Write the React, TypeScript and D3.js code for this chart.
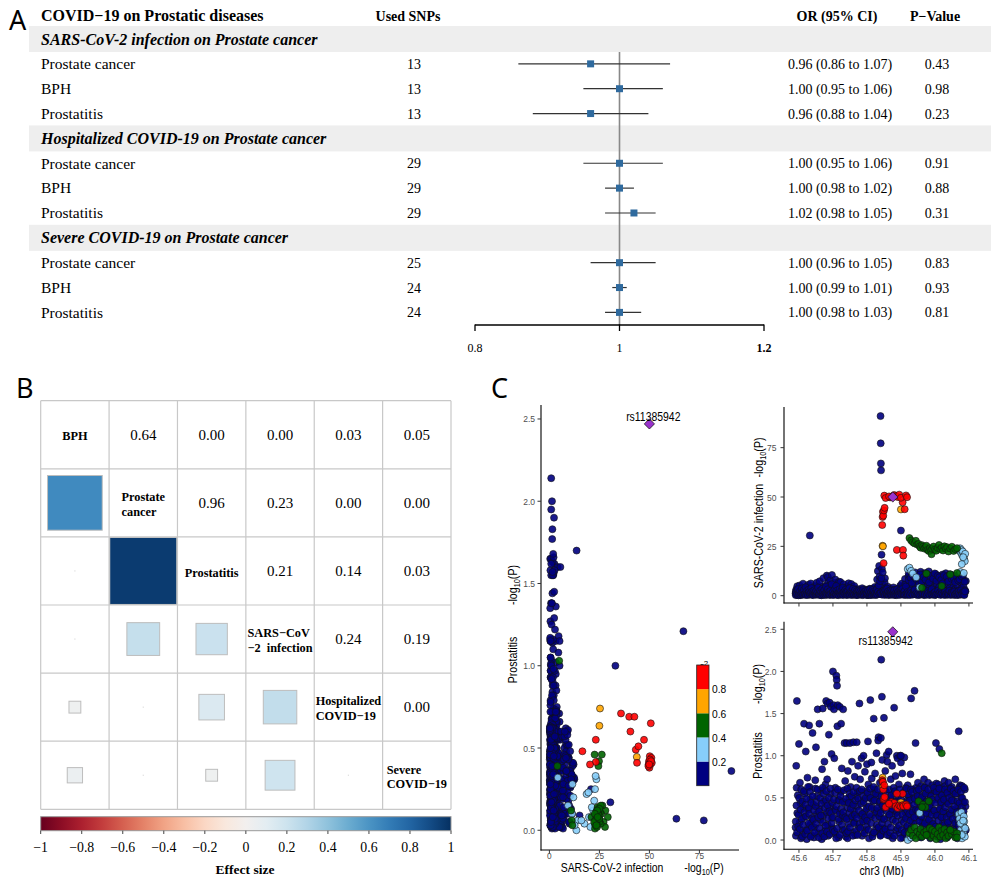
import React, { useMemo } from 'react';
import * as d3 from 'd3';

// ---------------- Panel A data ----------------
const forestHeader = 'COVID−19 on Prostatic diseases';
const forestGroups = [
  'SARS-CoV-2 infection on Prostate cancer',
  'Hospitalized COVID-19 on Prostate cancer',
  'Severe COVID-19 on Prostate cancer',
];
const forestOutcomes = ['Prostate cancer', 'BPH', 'Prostatitis'];
const usedSnps = [13, 13, 13, 29, 29, 29, 25, 24, 24];
const orValues = [0.96, 1.0, 0.96, 1.0, 1.0, 1.02, 1.0, 1.0, 1.0];
const ciLow = [0.86, 0.95, 0.88, 0.95, 0.98, 0.98, 0.96, 0.99, 0.98];
const ciHigh = [1.07, 1.06, 1.04, 1.06, 1.02, 1.05, 1.05, 1.01, 1.03];
const pValues = ['0.43', '0.98', '0.23', '0.91', '0.88', '0.31', '0.83', '0.93', '0.81'];
const forestTicks = [0.8, 1, 1.2];

// ---------------- Panel B data ----------------
const corrLabelLines = [
  ['BPH'],
  ['Prostate', 'cancer'],
  ['Prostatitis'],
  ['SARS−CoV', '−2  infection'],
  ['Hospitalized', 'COVID−19'],
  ['Severe', 'COVID−19'],
];
// [row, col, effect] upper triangle
const corrUpper: [number, number, number][] = [
  [0, 1, 0.64], [0, 2, 0.0], [0, 3, 0.0], [0, 4, 0.03], [0, 5, 0.05],
  [1, 2, 0.96], [1, 3, 0.23], [1, 4, 0.0], [1, 5, 0.0],
  [2, 3, 0.21], [2, 4, 0.14], [2, 5, 0.03],
  [3, 4, 0.24], [3, 5, 0.19],
  [4, 5, 0.0],
];
const effectTicks = [-1, -0.8, -0.6, -0.4, -0.2, 0, 0.2, 0.4, 0.6, 0.8, 1];

// ---------------- Panel C data: [pos Mb, SARS -log10P, Prostatitis -log10P] ----------------
const navySnps: number[][] = [
  [45.590,1.2,0.15],[45.592,3.1,0.88],[45.594,0.4,1.65],[45.591,2.2,0.05],[45.595,4.8,0.32],[45.593,0.9,0.62],
  [45.600,1.5,1.14],[45.602,5.2,0.21],[45.604,0.3,0.44],[45.606,2.7,0.02],[45.603,1.1,0.68],
  [45.632,30.5,0.17],[45.612,6.1,0.38],[45.615,0.8,1.38],[45.611,2.4,0.09],[45.617,3.6,0.55],[45.614,1.9,0.27],
  [45.620,0.6,1.05],[45.622,4.4,0.12],[45.625,2.1,0.74],[45.628,5.6,0.36],[45.623,1.3,0.01],
  [45.630,3.2,1.36],[45.633,0.7,0.48],[45.635,6.2,0.2],[45.637,2.9,0.06],[45.631,1.6,0.63],
  [45.640,0.5,1.27],[45.642,3.8,0.42],[45.645,1.7,0.15],[45.648,4.9,0.71],[45.644,2.3,0.03],
  [45.650,1.9,1.1],[45.652,6.5,0.31],[45.655,0.9,1.55],[45.657,3.3,0.08],[45.653,2.6,0.52],
  [45.660,1.2,1.38],[45.663,4.6,0.24],[45.665,0.4,0.59],[45.667,2.8,0.01],[45.661,7.3,0.37],[45.668,1.5,0.84],
  [45.670,2.1,1.56],[45.672,8.9,0.29],[45.675,0.6,0.93],[45.677,3.9,0.11],[45.673,1.4,0.46],[45.678,5.1,0.66],
  [45.680,0.8,1.65],[45.682,10.2,0.33],[45.684,2.5,1.62],[45.686,6.4,0.05],[45.688,1.1,1.25],[45.683,3.7,0.72],[45.685,9.5,0.18],
  [45.690,1.6,1.63],[45.692,7.8,0.4],[45.694,0.5,1.58],[45.696,3.2,1.02],[45.698,2.2,0.14],[45.693,5.4,0.55],[45.697,10.5,0.26],
  [45.700,1.3,2.0],[45.702,4.1,1.6],[45.704,0.7,0.97],[45.706,6.6,0.36],[45.708,2.9,0.07],[45.703,1.9,1.55],[45.707,8.2,0.62],
  [45.710,0.9,1.95],[45.711,2.3,1.9],[45.712,1.5,1.83],[45.714,5.5,1.6],[45.716,3.4,0.48],[45.718,7.1,0.22],[45.713,0.4,1.35],[45.717,1.8,0.03],
  [45.720,2.6,1.58],[45.722,6.9,0.31],[45.724,1.2,1.38],[45.726,3.5,0.85],[45.728,0.6,0.12],[45.723,4.2,0.57],
  [45.730,1.7,1.55],[45.732,5.8,0.26],[45.734,0.8,1.15],[45.736,2.4,0.7],[45.738,3.9,0.04],[45.733,1.1,0.45],
  [45.740,0.5,1.15],[45.742,4.7,0.38],[45.744,2.2,0.82],[45.746,6.3,0.19],[45.748,1.3,0.51],[45.743,0.9,0.02],
  [45.750,3.1,1.15],[45.752,1.4,0.63],[45.754,5.9,0.27],[45.756,0.7,0.93],[45.758,2.6,0.09],[45.753,4.1,0.44],
  [45.760,1.8,1.16],[45.762,0.6,0.34],[45.764,3.7,0.75],[45.766,2.1,0.06],[45.768,1.2,0.52],[45.763,4.9,0.21],
  [45.770,0.4,1.16],[45.772,2.8,0.4],[45.774,1.6,0.88],[45.776,3.3,0.15],[45.778,0.9,1.62],[45.773,2.0,0.57],
  [45.780,1.3,0.72],[45.782,2.5,0.29],[45.784,0.6,0.97],[45.786,3.8,0.05],[45.788,1.9,0.47],
  [45.790,0.8,1.0],[45.792,2.2,0.33],[45.794,1.5,0.81],[45.796,3.1,0.12],[45.798,0.5,0.58],[45.793,2.7,0.24],
  [45.800,1.7,0.9],[45.802,0.9,0.39],[45.804,2.9,0.66],[45.806,1.2,0.02],[45.808,3.5,0.5],[45.803,0.4,1.17],
  [45.810,2.1,1.66],[45.812,0.7,0.28],[45.814,3.4,0.73],[45.816,1.4,0.07],[45.818,2.6,0.55],[45.813,1.0,0.92],
  [45.820,1.5,1.44],[45.822,3.7,0.36],[45.824,0.6,0.79],[45.826,2.3,0.13],[45.828,1.1,1.03],[45.823,4.4,0.6],
  [45.830,8.2,0.52],[45.832,12.5,0.31],[45.834,2.8,1.22],[45.836,15.1,0.09],[45.838,1.5,0.68],[45.833,4.6,1.18],[45.837,9.7,0.44],
  [45.840,91.0,0.36],[45.8405,77.2,0.06],[45.841,67.0,1.21],[45.8415,63.5,0.07],[45.842,0.9,2.14],[45.843,20.8,0.25],[45.844,13.6,1.7],[45.845,3.2,0.95],[45.846,1.1,0.14],[45.847,5.5,0.57],
  [45.850,2.4,1.45],[45.852,6.8,0.38],[45.854,1.3,0.82],[45.856,3.9,0.1],[45.858,0.7,1.01],[45.853,8.8,0.6],
  [45.860,1.8,0.93],[45.862,4.5,0.27],[45.864,0.6,1.05],[45.866,2.9,0.05],[45.868,1.2,0.48],
  [45.870,3.3,0.72],[45.872,0.8,0.34],[45.874,2.1,0.88],[45.876,1.4,0.02],[45.878,4.2,0.55],
  [45.880,1.6,1.57],[45.882,3.0,0.31],[45.884,0.5,0.76],[45.886,2.5,0.11],[45.888,1.0,1.0],
  [45.890,2.7,0.97],[45.892,0.9,0.4],[45.894,3.8,0.66],[45.896,1.5,0.08],[45.898,5.1,1.0],
  [45.900,1.1,0.92],[45.902,4.3,0.24],[45.904,2.2,0.79],[45.906,0.7,0.03],[45.908,3.4,0.57],[45.903,6.2,0.42],
  [45.910,2.0,0.98],[45.912,8.5,0.33],[45.914,0.8,0.62],[45.916,3.7,0.15],[45.918,1.5,0.47],[45.913,5.6,0.06],
  [45.920,3.1,0.65],[45.922,9.8,0.28],[45.924,1.3,0.52],[45.926,6.4,0.02],[45.928,0.6,0.78],[45.923,11.2,0.41],
  [45.930,1.9,1.68],[45.932,10.6,0.37],[45.934,4.2,0.6],[45.936,0.9,0.13],[45.938,7.5,0.5],[45.933,2.6,0.22],
  [45.940,1.4,1.77],[45.942,11.8,0.3],[45.944,3.3,0.62],[45.946,0.7,0.08],[45.948,8.9,0.45],[45.943,5.1,1.15],
  [45.950,2.5,0.68],[45.952,9.2,0.27],[45.954,0.8,0.55],[45.956,5.7,0.04],[45.958,12.1,0.4],[45.953,1.6,0.16],
  [45.960,3.6,0.64],[45.962,10.9,0.34],[45.964,1.2,0.5],[45.966,7.3,0.1],[45.968,0.5,0.72],[45.963,4.8,0.2],
  [45.970,1.8,0.63],[45.972,11.5,0.39],[45.974,4.4,0.58],[45.976,0.9,0.06],[45.978,8.1,0.46],[45.973,2.9,0.25],
  [45.980,2.3,0.68],[45.982,12.3,0.32],[45.984,0.6,0.54],[45.986,6.0,0.02],[45.988,9.6,0.44],[45.983,3.8,0.18],
  [45.900,33.0,1.0],[45.992,1.5,0.65],[45.994,10.4,0.36],[45.996,4.0,0.57],[45.998,0.8,0.12],[45.993,7.7,0.23],
  [46.000,2.8,0.58],[46.002,11.0,0.3],[46.004,1.1,0.67],[46.006,5.5,0.05],[46.008,8.4,0.48],[46.003,0.6,1.15],
  [46.010,3.4,0.66],[46.012,9.9,0.35],[46.014,1.3,0.55],[46.016,6.8,0.01],[46.018,0.7,0.42],[46.013,4.5,1.08],
  [46.020,2.0,0.62],[46.022,10.7,0.27],[46.024,0.9,0.5],[46.026,7.2,0.08],[46.028,3.6,0.7],[46.023,1.4,0.2],
  [46.030,1.6,0.64],[46.032,11.4,0.33],[46.034,4.9,0.56],[46.036,0.6,0.03],[46.038,8.7,0.45],[46.033,2.4,0.16],
  [46.040,2.9,0.68],[46.042,9.5,0.3],[46.044,1.2,0.6],[46.046,6.1,0.1],[46.048,0.8,0.52],[46.043,3.9,0.22],
  [46.050,1.9,0.63],[46.052,10.3,0.36],[46.054,4.1,0.47],[46.056,0.7,0.06],[46.058,7.6,0.58],[46.053,2.6,0.14],
  [46.060,3.2,0.72],[46.062,8.8,0.28],[46.064,1.0,0.55],[46.066,5.3,0.02],[46.068,0.5,0.41],[46.063,2.1,0.2],
  [46.070,2.4,1.29],[46.072,11.1,0.34],[46.074,0.8,0.65],[46.076,6.7,0.07],[46.078,3.7,0.5],[46.073,1.5,0.63],
  [46.080,1.7,0.64],[46.082,9.0,0.3],[46.084,4.6,0.45],[46.086,0.6,0.09],[46.088,2.9,0.6],[46.083,1.2,0.19],
  [46.090,2.2,0.4],[46.091,7.4,0.12],
];
const navyDenseSnps: number[][] = [
  [45.5905,0.3,0.22],[45.5925,1.8,0.41],[45.5945,0.7,0.09],[45.5965,2.6,0.53],[45.5985,0.2,0.3],[45.5975,3.4,0.16],
  [45.6005,0.9,0.5],[45.6025,2.1,0.13],[45.6045,0.4,0.36],[45.6065,1.3,0.6],[45.6085,3.7,0.25],[45.6095,0.6,0.04],
  [45.6105,1.6,0.46],[45.6125,0.5,0.18],[45.6145,2.9,0.58],[45.6165,0.8,0.33],[45.6185,1.1,0.07],[45.6195,4.3,0.42],
  [45.6205,0.4,0.28],[45.6225,2.4,0.49],[45.6245,1.0,0.11],[45.6265,0.3,0.63],[45.6285,3.1,0.2],[45.6295,1.5,0.38],
  [45.6305,2.0,0.31],[45.6325,0.6,0.57],[45.6345,1.4,0.04],[45.6365,3.9,0.44],[45.6385,0.5,0.15],[45.6395,2.2,0.26],
  [45.6405,1.1,0.52],[45.6425,0.3,0.24],[45.6445,2.7,0.35],[45.6465,0.9,0.09],[45.6485,1.8,0.61],[45.6495,0.5,0.4],
  [45.6505,2.3,0.19],[45.6525,0.7,0.45],[45.6545,1.5,0.6],[45.6565,4.1,0.27],[45.6585,0.4,0.03],[45.6595,1.2,0.34],
  [45.6605,0.8,0.14],[45.6625,2.6,0.5],[45.6645,1.3,0.29],[45.6665,0.2,0.43],[45.6685,3.5,0.08],[45.6695,0.9,0.62],
  [45.6705,1.7,0.21],[45.6725,0.5,0.55],[45.6745,2.8,0.04],[45.6765,1.0,0.38],[45.6785,0.3,0.17],[45.6795,4.6,0.47],
  [45.6805,1.4,0.58],[45.6825,0.6,0.1],[45.6845,3.2,0.41],[45.6865,0.9,0.26],[45.6885,2.0,0.5],[45.6895,0.4,0.34],
  [45.6905,0.7,0.07],[45.6925,2.5,0.61],[45.6945,1.1,0.32],[45.6965,5.8,0.2],[45.6985,0.5,0.44],[45.6995,1.6,0.12],
  [45.7005,2.2,0.27],[45.7025,0.4,0.48],[45.7045,1.3,0.1],[45.7065,3.6,0.56],[45.7085,0.8,0.35],[45.7095,4.9,0.02],
  [45.7105,0.6,0.4],[45.7125,2.7,0.14],[45.7145,1.2,0.6],[45.7165,0.3,0.25],[45.7185,1.9,0.47],[45.7195,3.3,0.31],
  [45.7205,1.0,0.06],[45.7225,0.5,0.52],[45.7245,2.3,0.37],[45.7265,0.8,0.18],[45.7285,4.0,0.45],[45.7295,1.5,0.29],
  [45.7305,0.3,0.33],[45.7325,1.8,0.59],[45.7345,0.9,0.12],[45.7365,3.0,0.27],[45.7385,0.6,0.49],[45.7395,2.1,0.08],
  [45.7405,1.4,0.25],[45.7425,0.4,0.61],[45.7445,2.5,0.1],[45.7465,0.7,0.44],[45.7485,3.8,0.32],[45.7495,1.1,0.55],
  [45.7505,0.5,0.15],[45.7525,2.0,0.37],[45.7545,1.2,0.52],[45.7565,0.3,0.28],[45.7585,3.4,0.05],[45.7595,0.8,0.42],
  [45.7605,1.6,0.57],[45.7625,0.6,0.2],[45.7645,2.8,0.3],[45.7665,1.0,0.47],[45.7685,0.4,0.11],[45.7695,2.2,0.62],
  [45.7705,0.9,0.26],[45.7725,1.7,0.06],[45.7745,0.4,0.49],[45.7765,2.6,0.35],[45.7785,1.2,0.19],[45.7795,0.6,0.58],
  [45.7805,2.1,0.14],[45.7825,0.7,0.43],[45.7845,1.5,0.6],[45.7865,0.3,0.31],[45.7885,3.0,0.22],[45.7895,1.0,0.52],
  [45.7905,0.5,0.45],[45.7925,1.9,0.08],[45.7945,0.8,0.27],[45.7965,2.4,0.5],[45.7985,1.3,0.37],[45.7995,0.4,0.16],
  [45.8005,1.1,0.23],[45.8025,2.6,0.56],[45.8045,0.6,0.12],[45.8065,1.8,0.4],[45.8085,0.3,0.3],[45.8095,3.3,0.61],
  [45.8105,0.7,0.5],[45.8125,1.6,0.2],[45.8145,0.4,0.38],[45.8165,2.9,0.04],[45.8185,1.0,0.46],[45.8195,0.5,0.63],
  [45.8205,2.2,0.09],[45.8225,0.8,0.47],[45.8245,1.4,0.26],[45.8265,0.3,0.55],[45.8285,3.1,0.33],[45.8295,1.1,0.18],
  [45.8305,0.6,0.38],[45.8325,2.0,0.6],[45.8345,5.2,0.15],[45.8365,0.9,0.28],[45.8385,7.4,0.46],[45.8395,1.5,0.05],
  [45.8405,1.2,0.32],[45.8425,8.9,0.52],[45.8445,0.5,0.2],[45.8465,11.8,0.41],[45.8485,2.4,0.11],[45.8495,0.8,0.6],
  [45.8505,1.7,0.25],[45.8525,0.4,0.48],[45.8545,2.9,0.13],[45.8565,1.0,0.57],[45.8585,0.6,0.34],[45.8595,3.6,0.06],
  [45.8605,0.9,0.43],[45.8625,2.2,0.19],[45.8645,0.3,0.6],[45.8665,1.6,0.3],[45.8685,0.7,0.09],[45.8695,2.7,0.5],
  [45.8705,1.3,0.15],[45.8725,0.5,0.53],[45.8745,2.5,0.37],[45.8765,0.8,0.24],[45.8785,1.9,0.62],[45.8795,0.4,0.45],
  [45.8805,2.8,0.05],[45.8825,0.6,0.58],[45.8845,1.4,0.22],[45.8865,0.3,0.46],[45.8885,3.2,0.33],[45.8895,1.1,0.14],
  [45.8905,0.5,0.29],[45.8925,2.1,0.52],[45.8945,1.0,0.17],[45.8965,0.4,0.6],[45.8985,2.9,0.38],[45.8995,1.7,0.02],
  [45.9005,1.2,0.48],[45.9025,0.7,0.12],[45.9045,3.5,0.3],[45.9065,0.9,0.55],[45.9085,1.8,0.21],[45.9095,0.4,0.39],
  [45.9105,2.3,0.09],[45.9125,0.6,0.44],[45.9145,4.7,0.26],[45.9165,1.1,0.61],[45.9185,0.3,0.35],[45.9195,2.0,0.17],
  [45.9205,0.8,0.54],[45.9225,7.9,0.1],[45.9245,1.6,0.31],[45.9265,0.4,0.47],[45.9285,9.1,0.23],[45.9295,2.7,0.6],
  [45.9305,1.3,0.14],[45.9325,6.5,0.57],[45.9345,0.5,0.33],[45.9365,10.2,0.05],[45.9385,2.1,0.42],[45.9395,0.9,0.27],
  [45.9405,3.0,0.49],[45.9425,0.7,0.19],[45.9445,8.4,0.36],[45.9465,1.5,0.58],[45.9485,0.3,0.09],[45.9495,9.7,0.52],
  [45.9505,1.0,0.35],[45.9525,5.9,0.6],[45.9545,0.4,0.22],[45.9565,10.8,0.13],[45.9585,2.2,0.47],[45.9595,0.7,0.03],
  [45.9605,7.0,0.28],[45.9625,1.4,0.51],[45.9645,0.6,0.16],[45.9665,9.4,0.43],[45.9685,2.8,0.07],[45.9695,0.3,0.62],
  [45.9705,0.9,0.2],[45.9725,8.1,0.55],[45.9745,1.7,0.32],[45.9765,0.5,0.46],[45.9785,10.6,0.11],[45.9795,2.4,0.38],
  [45.9805,1.2,0.6],[45.9825,6.7,0.24],[45.9845,0.4,0.4],[45.9865,9.9,0.15],[45.9885,2.0,0.52],[45.9895,0.8,0.06],
  [45.9905,3.3,0.3],[45.9925,0.6,0.48],[45.9945,8.6,0.19],[45.9965,1.3,0.62],[45.9985,0.3,0.35],[45.9995,11.3,0.1],
  [46.0005,1.9,0.44],[46.0025,0.5,0.16],[46.0045,7.5,0.57],[46.0065,1.0,0.29],[46.0085,10.1,0.04],[46.0095,2.6,0.5],
  [46.0105,0.7,0.23],[46.0125,9.3,0.61],[46.0145,1.6,0.37],[46.0165,0.4,0.12],[46.0185,8.0,0.45],[46.0195,2.9,0.27],
  [46.0205,1.1,0.53],[46.0225,6.2,0.09],[46.0245,0.6,0.34],[46.0265,10.4,0.48],[46.0285,1.8,0.18],[46.0295,0.3,0.6],
  [46.0305,2.3,0.39],[46.0325,0.8,0.05],[46.0345,9.6,0.27],[46.0365,1.4,0.56],[46.0385,0.5,0.21],[46.0395,7.2,0.43],
  [46.0405,0.9,0.14],[46.0425,2.5,0.5],[46.0445,10.9,0.31],[46.0465,0.4,0.61],[46.0485,1.7,0.08],[46.0495,8.5,0.36],
  [46.0505,1.3,0.47],[46.0525,0.6,0.25],[46.0545,9.0,0.58],[46.0565,2.1,0.12],[46.0585,0.3,0.4],[46.0595,6.8,0.2],
  [46.0605,0.8,0.55],[46.0625,10.0,0.1],[46.0645,1.5,0.33],[46.0665,0.4,0.46],[46.0685,7.7,0.6],[46.0695,2.3,0.22],
  [46.0705,1.0,0.17],[46.0725,8.3,0.44],[46.0745,0.5,0.28],[46.0765,2.7,0.57],[46.0785,9.8,0.05],[46.0795,1.4,0.39],
  [46.0805,0.6,0.5],[46.0825,10.5,0.21],[46.0845,1.9,0.34],[46.0865,0.3,0.62],[46.0875,7.1,0.14],[46.0885,2.2,0.45],
];
const lightBlueSnps: number[][] = [
  [46.070,23.5,0.31],[46.072,22.8,0.25],[46.074,24.0,0.05],[46.076,21.9,0.12],[46.078,23.1,0.33],[46.080,20.5,0.02],
  [46.082,22.4,0.18],[46.084,19.8,0.08],[46.086,18.6,0.22],[46.088,17.5,0.04],[46.089,21.2,0.14],
  [45.920,13.5,0.0],[45.925,14.2,0.06],[45.930,12.6,0.03],[45.935,11.3,0.1],[46.075,12.0,0.2],[46.085,11.5,0.28],
  [45.945,9.3,0.15],[45.955,4.2,0.32],[46.083,19.5,0.23],[46.079,16.0,0.06],
];
const greenSnps: number[][] = [
  [45.925,29.2,0.08],[45.930,28.0,0.12],[45.935,27.1,0.05],[45.940,26.5,0.15],[45.944,27.8,0.02],[45.948,25.9,0.1],
  [45.952,26.2,0.46],[45.955,25.0,0.07],[45.958,24.3,0.13],[45.962,25.6,0.04],[45.965,24.8,0.42],[45.968,23.9,0.09],
  [45.972,24.5,0.39],[45.975,25.3,0.11],[45.978,23.2,0.06],[45.982,22.6,0.46],[45.985,24.1,0.14],[45.988,22.9,0.03],
  [45.990,21.0,0.08],[45.992,23.7,0.12],[45.996,24.9,0.05],[46.000,23.4,0.1],[46.004,22.8,0.01],[46.008,24.2,0.07],
  [46.012,25.7,0.15],[46.016,23.6,0.04],[46.020,24.4,0.11],[46.024,22.9,0.06],[46.028,25.0,0.13],[46.032,23.8,0.02],
  [46.036,24.6,0.09],[46.040,22.4,0.05],[46.045,23.9,0.12],[46.050,24.8,0.07],[46.055,22.7,0.1],[46.060,23.5,0.03],
  [46.065,24.1,0.08],[46.020,4.9,1.03],[45.962,4.0,0.39],[45.975,11.2,0.06],[46.045,10.8,0.12],[46.065,11.5,0.03],
];
const orangeSnps: number[][] = [
  [45.846,25.3,0.74],[45.847,25.0,0.635],[45.900,43.7,0.446],
];
const redSnps: number[][] = [
  [45.845,35.8,0.71],[45.846,39.9,0.69],[45.847,42.5,0.69],[45.848,40.5,0.6],[45.849,16.5,0.48],[45.850,43.2,0.49],
  [45.852,44.5,0.51],[45.911,43.8,0.41],[45.905,47.3,0.55],[45.868,49.8,0.42],[45.872,50.2,0.45],[45.880,51.0,0.44],
  [45.885,50.5,0.4],[45.890,50.0,0.38],[45.895,51.2,0.41],[45.900,49.6,0.4],[45.851,50.7,0.65],[45.888,23.2,0.55],
  [45.906,23.2,0.415],[45.907,20.3,0.4],[45.855,49.5,0.39],[45.865,50.3,0.43],[45.915,50.8,0.42],[45.918,49.9,0.4],
];
const leadSnp = { id: 'rs11385942', pos: 45.876, sars: 50.0, prost: 2.47 };
const ldColors = ['#000080', '#87CEFA', '#006400', '#FFA500', '#FF0000'];
const ldBreaks = [0.2, 0.4, 0.6, 0.8];
const scatterXTicks = [0, 25, 50, 75];
const prostTicks = [0, 0.5, 1.0, 1.5, 2.0, 2.5];
const sarsTicks = [0, 25, 50, 75];
const posTicks = [45.6, 45.7, 45.8, 45.9, 46.0, 46.1];

const serif = "'Liberation Serif','Times New Roman',serif";
const sans = "'Liberation Sans',Arial,sans-serif";
const labelFont = "'Noto Sans','Open Sans',sans-serif";
const SQ = 0.87; // horizontal squeeze of the sans texts in panel C

function CText({
  x, y, size, anchor = 'start', rotate = false, fill = '#000', children,
}: { x: number; y: number; size: number; anchor?: string; rotate?: boolean; fill?: string; children: any }) {
  return (
    <text
      transform={`translate(${x},${y})${rotate ? ' rotate(-90)' : ''} scale(${SQ},1)`}
      textAnchor={anchor as any}
      fontFamily={sans}
      fontSize={size}
      fill={fill}
    >
      {children}
    </text>
  );
}

function LogPart() {
  return (
    <>
      -log<tspan fontSize={8.5} dy={3}>10</tspan>
      <tspan dy={-3}>(P)</tspan>
    </>
  );
}

function Points({ sets, fx, fy }: { sets: number[][][]; fx: (d: number[]) => number; fy: (d: number[]) => number }) {
  return (
    <g>
      {sets.map((set, si) =>
        set.map((d, i) => (
          <circle
            key={si + '-' + i}
            cx={fx(d)}
            cy={fy(d)}
            r={3.5}
            fill={ldColors[si]}
            fillOpacity={0.9}
            stroke="#111"
            strokeWidth={0.6}
          />
        ))
      )}
    </g>
  );
}

export default function App() {
  const allSets = [navySnps.concat(navyDenseSnps), lightBlueSnps, greenSnps, orangeSnps, redSnps];

  // Panel A scales
  const rowY = d3.scaleLinear().domain([0, 11]).range([39, 312.4]);
  const orX = d3.scaleLinear().domain([0.8, 1.2]).range([475, 764]);

  // Panel B scales
  const idx = corrLabelLines.map((_, i) => i);
  const cx = d3.scaleBand<number>().domain(idx).range([40.7, 451]);
  const cy = d3.scaleBand<number>().domain(idx).range([400.7, 809.3]);
  const effX = d3.scaleLinear().domain([-1, 1]).range([40.7, 451]);
  const effColor = (v: number) => d3.interpolateRdBu((v + 1) / 2);

  // Panel C scales
  const lx = d3.scaleLinear().domain([-4.2, 94.8]).range([541, 739]);
  const ly = d3.scaleLinear().domain([-0.12, 2.585]).range([850, 405]);
  const px = d3.scaleLinear().domain([45.556, 46.112]).range([784, 973]);
  const sy = d3.scaleLinear().domain([-3.7, 95.6]).range([603, 407]);
  const py = d3.scaleLinear().domain([-0.11, 2.59]).range([849.3, 621.7]);
  const ldY = d3.scaleLinear().domain([0, 1]).range([785.7, 665]);

  const diamond = d3.symbol().type(d3.symbolSquare).size(52)() || '';

  const measure = useMemo(() => {
    const ctx = document.createElement('canvas').getContext('2d');
    return (t: string, font: string) => {
      if (!ctx) return t.length * 6;
      ctx.font = font;
      return ctx.measureText(t).width;
    };
  }, []);

  const forestRows: any[] = [];
  forestGroups.forEach((g, gi) => {
    forestRows.push({ type: 'title', text: g, k: gi * 4 });
    forestOutcomes.forEach((o, oi) => {
      const i = gi * 3 + oi;
      forestRows.push({ type: 'row', text: o, k: gi * 4 + oi + 1, i });
    });
  });

  const fmt2 = d3.format('.2f');
  const fmt1 = d3.format('.1f');
  const effLabel = (v: number) => (v === 0 ? '0' : d3.format('')(v));
  const gradStops = d3.range(0, 1.0001, 0.05);

  return (
    <svg width={991} height={877} style={{ position: 'absolute', left: 0, top: 0, background: '#fff' }}>
      <defs>
        <linearGradient id="rdbu" x1="0" x2="1" y1="0" y2="0">
          {gradStops.map((t, i) => (
            <stop key={i} offset={t} stopColor={d3.interpolateRdBu(t)} />
          ))}
        </linearGradient>
      </defs>
      <rect x={0} y={0} width={991} height={877} fill="#fff" />

      {/* ================= Panel A ================= */}
      <g fontFamily={serif} fill="#000">
        <text x={9} y={30} fontFamily={labelFont} fontSize={27}>A</text>
        <text x={41} y={20.5} fontWeight="bold" fontSize={16}>{forestHeader}</text>
        <text x={408} y={20.5} fontWeight="bold" fontSize={14} textAnchor="middle">Used SNPs</text>
        <text x={837} y={20.5} fontWeight="bold" fontSize={14} textAnchor="middle">OR (95% CI)</text>
        <text x={935} y={20.5} fontWeight="bold" fontSize={14} textAnchor="middle">P−Value</text>
        {forestRows.filter((r) => r.type === 'title').map((r) => (
          <g key={'t' + r.k}>
            <rect x={29} y={rowY(r.k) - 13} width={962} height={26} fill="#EEEEEE" />
            <text x={41} y={rowY(r.k) + 5.5} fontWeight="bold" fontStyle="italic" fontSize={16}>{r.text}</text>
          </g>
        ))}
        <line x1={orX(1)} x2={orX(1)} y1={52} y2={325} stroke="#888" strokeWidth={1.6} />
        {forestRows.filter((r) => r.type === 'row').map((r) => {
          const y = rowY(r.k);
          const i = r.i;
          return (
            <g key={'r' + r.k}>
              <text x={41} y={y + 5.3} fontSize={15.5}>{r.text}</text>
              <text x={414} y={y + 5} fontSize={14} textAnchor="middle">{usedSnps[i]}</text>
              <line x1={orX(ciLow[i])} x2={orX(ciHigh[i])} y1={y} y2={y} stroke="#333" strokeWidth={1.2} />
              <rect x={orX(orValues[i]) - 3.5} y={y - 3.5} width={7} height={7} fill="#2F6A9E" />
              <text x={840} y={y + 5} fontSize={14} textAnchor="middle">
                {`${fmt2(orValues[i])} (${fmt2(ciLow[i])} to ${fmt2(ciHigh[i])})`}
              </text>
              <text x={937} y={y + 5} fontSize={14} textAnchor="middle">{pValues[i]}</text>
            </g>
          );
        })}
        <line x1={orX(0.8)} x2={orX(1.2)} y1={325} y2={325} stroke="#000" strokeWidth={1.3} />
        {forestTicks.map((t, i) => (
          <g key={'ft' + i}>
            <line x1={orX(t)} x2={orX(t)} y1={324.5} y2={331} stroke="#000" strokeWidth={1.3} />
            <text x={orX(t)} y={352} fontSize={12} textAnchor="middle" fontWeight={t === 1.2 ? 'bold' : 'normal'}>
              {String(t)}
            </text>
          </g>
        ))}
      </g>

      {/* ================= Panel B ================= */}
      <g fontFamily={serif} fill="#000">
        <text x={16} y={398} fontFamily={labelFont} fontSize={27}>B</text>
        {corrUpper.map(([r, c, v], k) => {
          const row = c;
          const col = r;
          const bw = cx.bandwidth();
          const side = Math.max(1.2, bw * Math.sqrt(Math.abs(v)));
          const ccx = (cx(col) as number) + bw / 2;
          const ccy = (cy(row) as number) + cy.bandwidth() / 2;
          return (
            <rect
              key={'sq' + k}
              x={ccx - side / 2}
              y={ccy - side / 2}
              width={side}
              height={side}
              fill={v === 0 ? '#ddd' : effColor(v)}
              stroke={v === 0 ? 'none' : '#BDBDBD'}
              strokeWidth={1}
            />
          );
        })}
        {d3.range(0, 7).map((i) => {
          const xv = i < 6 ? (cx(i) as number) : 451;
          const yv = i < 6 ? (cy(i) as number) : 809.3;
          return (
            <g key={'g' + i}>
              <line x1={xv} x2={xv} y1={400.7} y2={809.3} stroke="#C8C8C8" strokeWidth={1.2} />
              <line x1={40.7} x2={451} y1={yv} y2={yv} stroke="#C8C8C8" strokeWidth={1.2} />
            </g>
          );
        })}
        {corrUpper.map(([r, c, v], k) => (
          <text
            key={'v' + k}
            x={(cx(c) as number) + cx.bandwidth() / 2}
            y={(cy(r) as number) + cy.bandwidth() / 2 + 5.3}
            fontSize={15}
            textAnchor="middle"
          >
            {fmt2(v)}
          </text>
        ))}
        {corrLabelLines.map((lines, i) => {
          const font = `bold 12.3px ${serif}`;
          const w = d3.max(lines, (l) => measure(l, font)) || 0;
          const x0 = (cx(i) as number) + cx.bandwidth() / 2 - w / 2;
          const c0 = (cy(i) as number) + cy.bandwidth() / 2 + 1.5;
          return (
            <text key={'d' + i} fontWeight="bold" fontSize={12.3} style={{ whiteSpace: 'pre' }}>
              {lines.map((l, li) => (
                <tspan key={li} x={x0} y={c0 + (li - (lines.length - 1) / 2) * 14.8 + 4.2}>
                  {l}
                </tspan>
              ))}
            </text>
          );
        })}
        <rect x={40.7} y={816.7} width={410.3} height={14} fill="url(#rdbu)" stroke="#999" strokeWidth={1} />
        {effectTicks.map((t, i) => (
          <g key={'et' + i}>
            <line x1={effX(t)} x2={effX(t)} y1={830.7} y2={834} stroke="#444" strokeWidth={1} />
            <text x={effX(t)} y={851.5} fontSize={13.8} textAnchor="middle">{effLabel(t)}</text>
          </g>
        ))}
        <text x={245} y={874} fontSize={13.5} fontWeight="bold" textAnchor="middle">Effect size</text>
      </g>

      {/* ================= Panel C ================= */}
      <g fontFamily={sans}>
        <text x={491} y={398} fontFamily={labelFont} fontSize={27} fill="#000">C</text>

        {/* ---- left scatter: SARS vs Prostatitis ---- */}
        <Points sets={allSets} fx={(d) => lx(d[1])} fy={(d) => ly(d[2])} />
        <path
          d={diamond}
          transform={`translate(${lx(leadSnp.sars)},${ly(leadSnp.prost)}) rotate(45)`}
          fill="#9932CC"
          stroke="#111"
          strokeWidth={0.7}
        />
        <CText x={653.3} y={421} size={12} anchor="middle">{leadSnp.id}</CText>
        <line x1={541} x2={541} y1={405} y2={850.5} stroke="#000" strokeWidth={1.1} />
        <line x1={540.5} x2={739} y1={850} y2={850} stroke="#000" strokeWidth={1.1} />
        {prostTicks.map((t, i) => (
          <g key={'lyt' + i}>
            <line x1={537.5} x2={541} y1={ly(t)} y2={ly(t)} stroke="#333" />
            <CText x={535} y={ly(t) + 3.5} size={9.8} anchor="end" fill="#4D4D4D">{fmt1(t)}</CText>
          </g>
        ))}
        {scatterXTicks.map((t, i) => (
          <g key={'lxt' + i}>
            <line x1={lx(t)} x2={lx(t)} y1={850} y2={853.5} stroke="#333" />
            <CText x={lx(t)} y={859} size={9.5} anchor="middle" fill="#4D4D4D">{t}</CText>
          </g>
        ))}
        <CText x={517} y={660} size={12.2} anchor="middle" rotate>Prostatitis</CText>
        <CText x={517} y={585} size={12.2} anchor="middle" rotate><LogPart /></CText>
        <CText x={612} y={872} size={12} anchor="middle">SARS-CoV-2 infection</CText>
        <CText x={704} y={872} size={12} anchor="middle"><LogPart /></CText>

        {/* r2 legend */}
        <text x={700} y={670} fontSize={11} fill="#000">
          r<tspan fontSize={8} dy={-4}>2</tspan>
        </text>
        {ldColors.map((c, i) => (
          <rect
            key={'lg' + i}
            x={696.7}
            y={ldY((i + 1) / 5)}
            width={12.3}
            height={ldY(i / 5) - ldY((i + 1) / 5)}
            fill={c}
          />
        ))}
        <rect x={696.7} y={665} width={12.3} height={120.7} fill="none" stroke="#222" strokeWidth={0.8} />
        {ldBreaks.map((b, i) => (
          <CText key={'lb' + i} x={712} y={ldY(b) + 4.3} size={11.8}>{fmt1(b)}</CText>
        ))}

        {/* ---- top right: position vs SARS ---- */}
        <Points sets={allSets} fx={(d) => px(d[0])} fy={(d) => sy(d[1])} />
        <path
          d={diamond}
          transform={`translate(${px(leadSnp.pos)},${sy(leadSnp.sars)}) rotate(45)`}
          fill="#9932CC"
          stroke="#111"
          strokeWidth={0.7}
        />
        <line x1={784} x2={784} y1={407} y2={603.5} stroke="#000" strokeWidth={1.1} />
        <line x1={783.5} x2={973} y1={603} y2={603} stroke="#000" strokeWidth={1.1} />
        {sarsTicks.map((t, i) => (
          <g key={'syt' + i}>
            <line x1={780.5} x2={784} y1={sy(t)} y2={sy(t)} stroke="#333" />
            <CText x={776.5} y={sy(t) + 3.5} size={9.8} anchor="end" fill="#4D4D4D">{t}</CText>
          </g>
        ))}
        {posTicks.map((t, i) => (
          <line key={'sxt' + i} x1={px(t)} x2={px(t)} y1={603} y2={606.5} stroke="#333" />
        ))}
        <CText x={763} y={536} size={12.2} anchor="middle" rotate>SARS-CoV-2 infection</CText>
        <CText x={763} y={457.5} size={12.2} anchor="middle" rotate><LogPart /></CText>

        {/* ---- bottom right: position vs Prostatitis ---- */}
        <Points sets={allSets} fx={(d) => px(d[0])} fy={(d) => py(d[2])} />
        <path
          d={diamond}
          transform={`translate(${px(leadSnp.pos)},${py(leadSnp.prost)}) rotate(45)`}
          fill="#9932CC"
          stroke="#111"
          strokeWidth={0.7}
        />
        <CText x={885.7} y={645} size={12} anchor="middle">{leadSnp.id}</CText>
        <line x1={784} x2={784} y1={621.7} y2={849.8} stroke="#000" strokeWidth={1.1} />
        <line x1={783.5} x2={973} y1={849.3} y2={849.3} stroke="#000" strokeWidth={1.1} />
        {prostTicks.map((t, i) => (
          <g key={'pyt' + i}>
            <line x1={780.5} x2={784} y1={py(t)} y2={py(t)} stroke="#333" />
            <CText x={776.5} y={py(t) + 3.5} size={9.8} anchor="end" fill="#4D4D4D">{fmt1(t)}</CText>
          </g>
        ))}
        {posTicks.map((t, i) => (
          <g key={'pxt' + i}>
            <line x1={px(t)} x2={px(t)} y1={849.3} y2={852.8} stroke="#333" />
            <CText x={px(t)} y={861} size={9.8} anchor="middle" fill="#4D4D4D">{fmt1(t)}</CText>
          </g>
        ))}
        <CText x={762} y={755.5} size={12.2} anchor="middle" rotate>Prostatitis</CText>
        <CText x={762} y={684} size={12.2} anchor="middle" rotate><LogPart /></CText>
        <CText x={881.7} y={874.5} size={12} anchor="middle">chr3 (Mb)</CText>
      </g>
    </svg>
  );
}
